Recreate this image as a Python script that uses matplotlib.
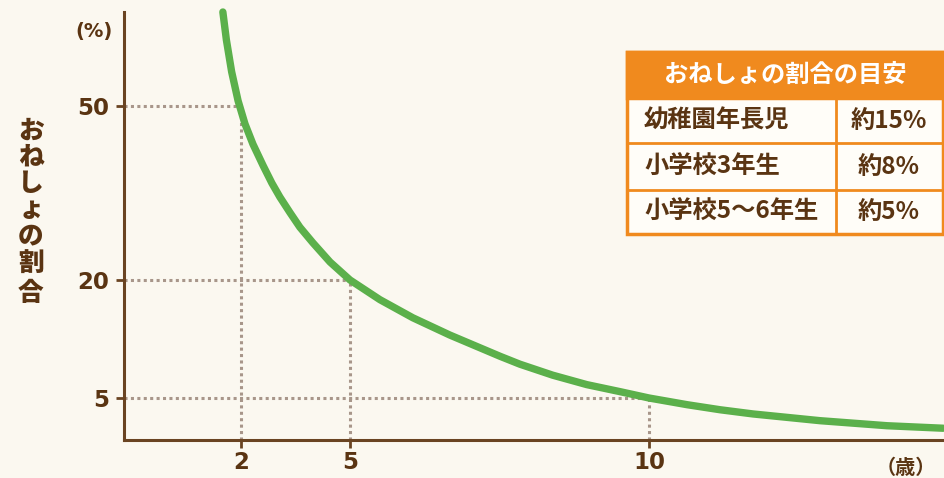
import numpy as np
import matplotlib
matplotlib.use("Agg")
import matplotlib.pyplot as plt
from matplotlib.patches import Rectangle

plt.rcParams['font.family'] = ['Noto Sans CJK JP', 'DejaVu Sans']

# ---- data ----
ages = [1.69, 1.75, 1.84, 1.95, 2.11, 2.33, 2.61, 2.85, 3.07, 3.35, 3.62, 3.98, 4.45, 5.0,
        5.50, 6.05, 6.67, 7.51, 7.84, 8.39, 8.96, 9.52, 10.0, 10.64, 11.19, 11.74, 12.86, 13.98, 14.92]
rates = [66.2, 61.4, 55.9, 50.9, 46.9, 43.4, 39.7, 36.7, 34.3, 31.6, 29.1, 26.4, 23.1, 20.0,
         17.5, 15.2, 13.0, 10.3, 9.3, 7.9, 6.7, 5.8, 5.0, 4.2, 3.6, 3.1, 2.3, 1.7, 1.4]
x_ticks = [2, 5, 10]
y_ticks = [5, 20, 50]
ref_points = [(2, 50), (5, 20), (10, 5)]
y_unit = "(%)"
x_unit = "（歳）"
y_label = "おねしょの割合"
table_title = "おねしょの割合の目安"
table_rows = ["幼稚園年長児", "小学校3年生", "小学校5〜6年生"]
table_vals = ["約15%", "約8%", "約5%"]

# ---- style ----
BG = "#fbf8f0"
BROWN = "#6a4422"
TEXT = "#5a3412"
GREEN = "#5bb04b"
ORANGE = "#f08a1e"
DOT = "#a8968a"
NUMFONT = ['DejaVu Sans', 'Noto Sans CJK JP']

W, H = 945, 478
fig = plt.figure(figsize=(W / 100, H / 100), dpi=100, facecolor=BG)
ax = fig.add_axes([124 / W, 38 / H, (W - 124) / W, (440 - 12) / H])
ax.set_facecolor(BG)

# schematic (non-linear) axes
XN = [0, 2, 5, 10, 15]
XP = [124, 241, 350, 649, 948]
YN = [0, 5, 20, 50, 70]
YP = [38, 80, 198, 372, 488]
ax.set_xscale('function', functions=(lambda v: np.interp(v, XN, XP), lambda p: np.interp(p, XP, XN)))
ax.set_yscale('function', functions=(lambda v: np.interp(v, YN, YP), lambda p: np.interp(p, YP, YN)))
ax.set_xlim(0, 14.95)
ax.set_ylim(0, 66.2)

for s in ['top', 'right']:
    ax.spines[s].set_visible(False)
for s in ['left', 'bottom']:
    ax.spines[s].set_color(BROWN)
    ax.spines[s].set_linewidth(2.2)

ax.set_xticks(x_ticks)
ax.set_xticklabels([str(t) for t in x_ticks])
ax.set_yticks(y_ticks)
ax.set_yticklabels([str(t) for t in y_ticks])
ax.tick_params(axis='both', colors=BROWN, width=2.0, length=6, labelcolor=TEXT, labelsize=16.5)
ax.tick_params(axis='x', pad=2)
ax.tick_params(axis='y', pad=5)
for lab in ax.get_xticklabels() + ax.get_yticklabels():
    lab.set_fontweight('bold')
    lab.set_family(NUMFONT)

# dotted reference lines
for (rx, ry) in ref_points:
    ax.plot([0, rx], [ry, ry], color=DOT, lw=2.2, ls=(0, (1, 1.1)), zorder=2)
    ax.plot([rx, rx], [0, ry], color=DOT, lw=2.2, ls=(0, (1, 1.1)), zorder=2)

# curve
ax.plot(ages, rates, color=GREEN, lw=5.3, solid_capstyle='round', solid_joinstyle='round',
        zorder=3, clip_on=False)

# overlay in pixel coordinates for annotations/table
ov = fig.add_axes([0, 0, 1, 1], facecolor='none')
ov.set_xlim(0, W)
ov.set_ylim(H, 0)
ov.axis('off')

ov.text(94, 31, y_unit, ha='center', va='center', fontsize=14, fontweight='bold', color=TEXT,
        family=NUMFONT)
ov.text(906, 467, x_unit, ha='center', va='center', fontsize=14.5, fontweight='bold', color=TEXT)

ycs = [131, 157, 183, 209, 235, 264, 293]
for ch, yc in zip(y_label, ycs):
    ov.text(31, yc, ch, ha='center', va='center', fontsize=18.5, fontweight='black', color=TEXT)

# table
tx0, tx1, ty0 = 627, 943, 52
rows_y = [52, 98, 143, 190, 234]
colx = 836
ov.add_patch(Rectangle((tx0, ty0), tx1 - tx0, rows_y[-1] - ty0, facecolor='#fffdf8',
                       edgecolor=ORANGE, lw=2.5, zorder=4))
ov.add_patch(Rectangle((tx0, rows_y[0]), tx1 - tx0, rows_y[1] - rows_y[0], facecolor=ORANGE,
                       edgecolor=ORANGE, lw=2.5, zorder=5))
for yy in rows_y[2:-1]:
    ov.plot([tx0, tx1], [yy, yy], color=ORANGE, lw=2.0, zorder=6)
ov.plot([colx, colx], [rows_y[1], rows_y[-1]], color=ORANGE, lw=2.0, zorder=6)
ov.text((tx0 + tx1) / 2, (rows_y[0] + rows_y[1]) / 2, table_title, ha='center', va='center',
        fontsize=17.5, fontweight='bold', color='white', zorder=7)
for i, (lab, val) in enumerate(zip(table_rows, table_vals)):
    yc = (rows_y[i + 1] + rows_y[i + 2]) / 2
    ov.text(644, yc, lab, ha='left', va='center', fontsize=17.5, fontweight='bold', color=TEXT, zorder=7)
    ov.text(889, yc, val, ha='center', va='center', fontsize=17.5, fontweight='bold', color=TEXT, zorder=7)

fig.savefig("out.png", dpi=100, facecolor=BG)
